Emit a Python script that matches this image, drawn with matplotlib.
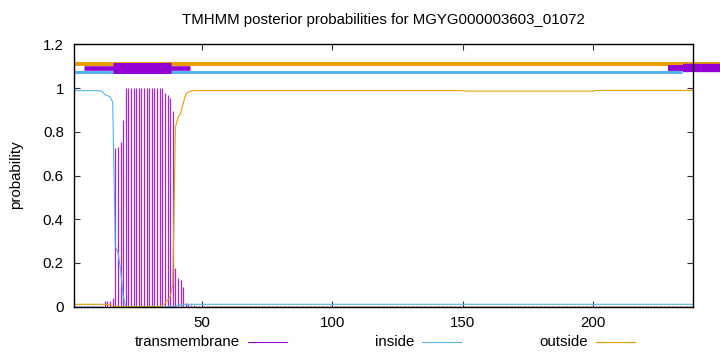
import matplotlib.pyplot as plt
from matplotlib.lines import Line2D
import numpy as np

plt.rcParams['font.family'] = ['Liberation Sans', 'DejaVu Sans']

# dati (residui 1..238)
title = "TMHMM posterior probabilities for MGYG000003603_01072"
n_res = 238

inside_head = [0.99, 0.988, 0.988, 0.988, 0.988, 0.988, 0.988, 0.988, 0.988, 0.988, 0.988,
               0.985, 0.97, 0.965, 0.96, 0.935, 0.275, 0.25, 0.17, 0.05] + [0.0] * 18 + \
              [0.002, 0.004, 0.006, 0.008, 0.01, 0.011, 0.011]
inside_tail = [0.011] * 193

outside_head = [0.011] * 13 + [0.01, 0.007, 0.004, 0.001] + [0.0] * 17 + \
               [0.005, 0.015, 0.03, 0.046, 0.1, 0.82, 0.865, 0.885, 0.93, 0.972, 0.982, 0.986]
outside_tail = [0.988] * 104 + [0.986] * 50 + [0.989] * 38

tm_head = [0.001] * 12 + [0.026, 0.026, 0.027, 0.038, 0.724, 0.73, 0.755, 0.854] + [0.998] * 15 + \
          [0.978, 0.968, 0.953, 0.896, 0.176, 0.13, 0.122, 0.091, 0.018, 0.014, 0.01, 0.006, 0.003]
tm_tail = [0.001] * 113 + [0.003] * 19 + [0.001] * 58

inside = inside_head + inside_tail
outside = outside_head + outside_tail
transmembrane = tm_head + tm_tail
residues = np.arange(1, n_res + 1)

# barre in alto: (livello, inizio, fine, spessore)
bar_outside = [(1.111, 1, 262, 2.9)]
bar_inside = [(1.072, 1, 233.8, 2.2)]
bar_tm = [(1.09, 5.0, 45.7, 3.3), (1.09, 16.2, 38.3, 7.9), (1.09, 228.4, 262, 4.2), (1.09, 234.4, 262, 6.0)]

col_tm = '#9400d3'
col_in = '#56b4e9'
col_out = '#e69f00'

fig = plt.figure(figsize=(7.2, 3.52), dpi=100)
ax = fig.add_axes([73.5 / 720, 1 - 306.7 / 352, (692.7 - 73.5) / 720, (306.7 - 44.3) / 352])

#### PLOTTING ####
ax.vlines(residues, 0, transmembrane, color=col_tm, lw=0.9, alpha=0.85, zorder=2)
ax.plot(residues, inside, color=col_in, lw=0.8, zorder=3)
ax.plot(residues, outside, color=col_out, lw=0.8, zorder=3)

for lev, a, b, w in bar_outside:
    ax.plot([a, b], [lev, lev], color=col_out, lw=w, solid_capstyle='butt', clip_on=False, zorder=2)
for lev, a, b, w in bar_inside:
    ax.plot([a, b], [lev, lev], color=col_in, lw=w, solid_capstyle='butt', clip_on=False, zorder=2)
for lev, a, b, w in bar_tm:
    ax.plot([a, b], [lev, lev], color=col_tm, lw=w, solid_capstyle='butt', clip_on=False, zorder=2)

ax.set_xlim(1, n_res)
ax.set_ylim(0, 1.2)
ax.set_xticks([50, 100, 150, 200])
ax.set_yticks([0, 0.2, 0.4, 0.6, 0.8, 1.0, 1.2])
ax.set_yticklabels(['0', '0.2', '0.4', '0.6', '0.8', '1', '1.2'])
ax.tick_params(direction='in', length=4, width=0.8, color='#333333', top=True, right=True,
               labelsize=10.8, pad=7)
for s in ax.spines.values():
    s.set_linewidth(1.0)
    s.set_zorder(5)

fig.text(383 / 720, 1 - 20 / 352, title, ha='center', va='center', fontsize=10.8)
fig.text(16 / 720, 1 - 175 / 352, "probability", rotation=90, ha='center', va='center', fontsize=10.8)

# legenda in basso, stile gnuplot
labels = ["transmembrane", "inside", "outside"]
colors = [col_tm, col_in, col_out]
ly = 1 - 341.5 / 352
for i in range(3):
    x0 = 240 + 174 * i
    fig.text(x0 / 720, ly, labels[i], ha='right', va='center', fontsize=10.8)
    fig.add_artist(Line2D([(x0 + 8) / 720, (x0 + 47) / 720], [ly, ly], color=colors[i], lw=0.8))

fig.savefig("out.png", dpi=100)
